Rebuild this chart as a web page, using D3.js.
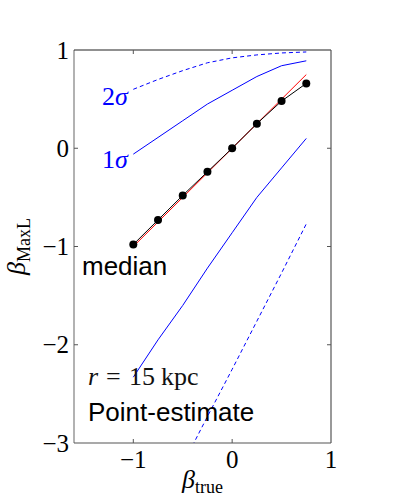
<!DOCTYPE html>
<html>
<head>
<meta charset="utf-8">
<script src="https://cdn.jsdelivr.net/npm/d3@7"></script>
<style>
  body { margin: 0; background: #fff; }
  svg { display: block; }
</style>
</head>
<body>
<div id="chart"></div>
<script>
// -- data --------------------------------------------------------------------
const betaTrue   = [-1, -0.75, -0.5, -0.25, 0, 0.25, 0.5, 0.75];
const medianVals = [-0.98, -0.73, -0.48, -0.24, 0.0, 0.25, 0.48, 0.66];
const upper1s    = [-0.06, 0.11, 0.28, 0.45, 0.59, 0.73, 0.84, 0.89];
const upper2s    = [0.60, 0.70, 0.79, 0.87, 0.92, 0.95, 0.97, 0.98];
const lower1s    = [-2.33, -1.95, -1.60, -1.22, -0.86, -0.50, -0.20, 0.10];
const lower2sX   = [-0.5, -0.25, 0, 0.25, 0.5, 0.75];
const lower2s    = [-3.22, -2.73, -2.25, -1.76, -1.27, -0.77];
const identityX  = [-1, 0.75];
const xTicks     = [-1, 0, 1];
const yTicks     = [-3, -2, -1, 0, 1];

const W = 395, H = 493;
const x = d3.scaleLinear().domain([-1.6, 1]).range([74, 331]);
const y = d3.scaleLinear().domain([-3, 1]).range([443, 50]);

const svg = d3.select('#chart').append('svg')
  .attr('width', W).attr('height', H);

svg.append('defs').append('clipPath').attr('id', 'plot')
  .append('rect')
  .attr('x', x(-1.6)).attr('y', y(1))
  .attr('width', x(1) - x(-1.6)).attr('height', y(-3) - y(1));

const serif = "'Liberation Serif', 'DejaVu Serif', serif";
const sans  = "'Liberation Sans', Arial, sans-serif";
const blue  = '#0000ff';

const g = svg.append('g').attr('clip-path', 'url(#plot)');
const line = d3.line().x(d => x(d[0])).y(d => y(d[1]));

// -- sigma bands ------------------------------------------------------------
g.append('path').datum(d3.zip(betaTrue, upper2s)).attr('d', line)
  .attr('fill', 'none').attr('stroke', blue).attr('stroke-width', 1)
  .attr('stroke-dasharray', '4,3');
g.append('path').datum(d3.zip(lower2sX, lower2s)).attr('d', line)
  .attr('fill', 'none').attr('stroke', blue).attr('stroke-width', 1)
  .attr('stroke-dasharray', '4,3');
g.append('path').datum(d3.zip(betaTrue, upper1s)).attr('d', line)
  .attr('fill', 'none').attr('stroke', blue).attr('stroke-width', 1);
g.append('path').datum(d3.zip(betaTrue, lower1s)).attr('d', line)
  .attr('fill', 'none').attr('stroke', blue).attr('stroke-width', 1);

// -- identity + median ------------------------------------------------------
g.append('path').datum(identityX.map(v => [v, v])).attr('d', line)
  .attr('fill', 'none').attr('stroke', '#ff0000').attr('stroke-width', 1);
g.append('path').datum(d3.zip(betaTrue, medianVals)).attr('d', line)
  .attr('fill', 'none').attr('stroke', '#000').attr('stroke-width', 1);
g.selectAll('circle.med').data(d3.zip(betaTrue, medianVals)).join('circle')
  .attr('class', 'med')
  .attr('cx', d => x(d[0])).attr('cy', d => y(d[1])).attr('r', 4)
  .attr('fill', '#000');

// -- frame & ticks ----------------------------------------------------------
const x0 = x(-1.6), x1 = x(1), y0 = y(-3), y1 = y(1);
svg.append('line').attr('x1', x0).attr('x2', x0).attr('y1', y1).attr('y2', y0)
  .attr('stroke', '#999').attr('stroke-width', 1.5);
svg.append('line').attr('x1', x0).attr('x2', x1).attr('y1', y1).attr('y2', y1)
  .attr('stroke', '#222').attr('stroke-width', 1.2);
svg.append('line').attr('x1', x1).attr('x2', x1).attr('y1', y1).attr('y2', y0)
  .attr('stroke', '#555').attr('stroke-width', 1.2);
svg.append('line').attr('x1', x0).attr('x2', x1).attr('y1', y0).attr('y2', y0)
  .attr('stroke', '#555').attr('stroke-width', 1.2);

const tl = 4;
xTicks.filter(t => t > -1.6 && t < 1).forEach(t => {
  svg.append('line').attr('x1', x(t)).attr('x2', x(t)).attr('y1', y0).attr('y2', y0 - tl)
    .attr('stroke', '#555');
  svg.append('line').attr('x1', x(t)).attr('x2', x(t)).attr('y1', y1).attr('y2', y1 + tl)
    .attr('stroke', '#555');
});
yTicks.filter(t => t > -3 && t < 1).forEach(t => {
  svg.append('line').attr('x1', x0).attr('x2', x0 + tl).attr('y1', y(t)).attr('y2', y(t))
    .attr('stroke', '#555');
  svg.append('line').attr('x1', x1).attr('x2', x1 - tl).attr('y1', y(t)).attr('y2', y(t))
    .attr('stroke', '#555');
});

const fmt = v => (v < 0 ? '\u2212' : '') + Math.abs(v);
svg.selectAll('text.xt').data(xTicks).join('text').attr('class', 'xt')
  .attr('x', d => x(d)).attr('y', 468)
  .attr('text-anchor', 'middle').attr('font-family', serif).attr('font-size', 25)
  .text(fmt);
svg.selectAll('text.yt').data(yTicks).join('text').attr('class', 'yt')
  .attr('x', 69).attr('y', d => y(d) + 8.5)
  .attr('text-anchor', 'end').attr('font-family', serif).attr('font-size', 25)
  .text(fmt);

// -- axis labels ------------------------------------------------------------
const xl = svg.append('text').attr('x', (x0 + x1) / 2).attr('y', 488)
  .attr('text-anchor', 'middle').attr('font-family', serif).attr('font-size', 26);
xl.append('tspan').attr('font-style', 'italic').text('\u03b2');
xl.append('tspan').attr('font-size', 18).attr('dy', 5).text('true');

const yl = svg.append('text')
  .attr('transform', `translate(25,${(y0 + y1) / 2}) rotate(-90)`)
  .attr('text-anchor', 'middle').attr('font-family', serif).attr('font-size', 26);
yl.append('tspan').attr('font-style', 'italic').text('\u03b2');
yl.append('tspan').attr('font-size', 18).attr('dy', 5).text('MaxL');

// -- annotations ------------------------------------------------------------
function sigmaLabel(n, py) {
  const t = svg.append('text').attr('x', 102).attr('y', py)
    .attr('font-family', serif).attr('font-size', 26).attr('fill', blue);
  t.append('tspan').text(n);
  t.append('tspan').attr('font-style', 'italic').text('\u03c3');
}
sigmaLabel('2', 105);
sigmaLabel('1', 168);

svg.append('text').attr('x', 82).attr('y', 275)
  .attr('font-family', sans).attr('font-size', 26).text('median');

// math-style spacing around "=" like the original TeX label
const rt = svg.append('text').attr('y', 385)
  .attr('font-family', serif).attr('font-size', 26).attr('fill', '#111');
rt.append('tspan').attr('x', 88).attr('font-style', 'italic').text('r');
rt.append('tspan').attr('x', 106).text('=');
rt.append('tspan').attr('x', 129).text('15');
rt.append('tspan').attr('x', 161).text('kpc');

svg.append('text').attr('x', 88).attr('y', 421)
  .attr('font-family', sans).attr('font-size', 26).text('Point-estimate');
</script>
</body>
</html>
